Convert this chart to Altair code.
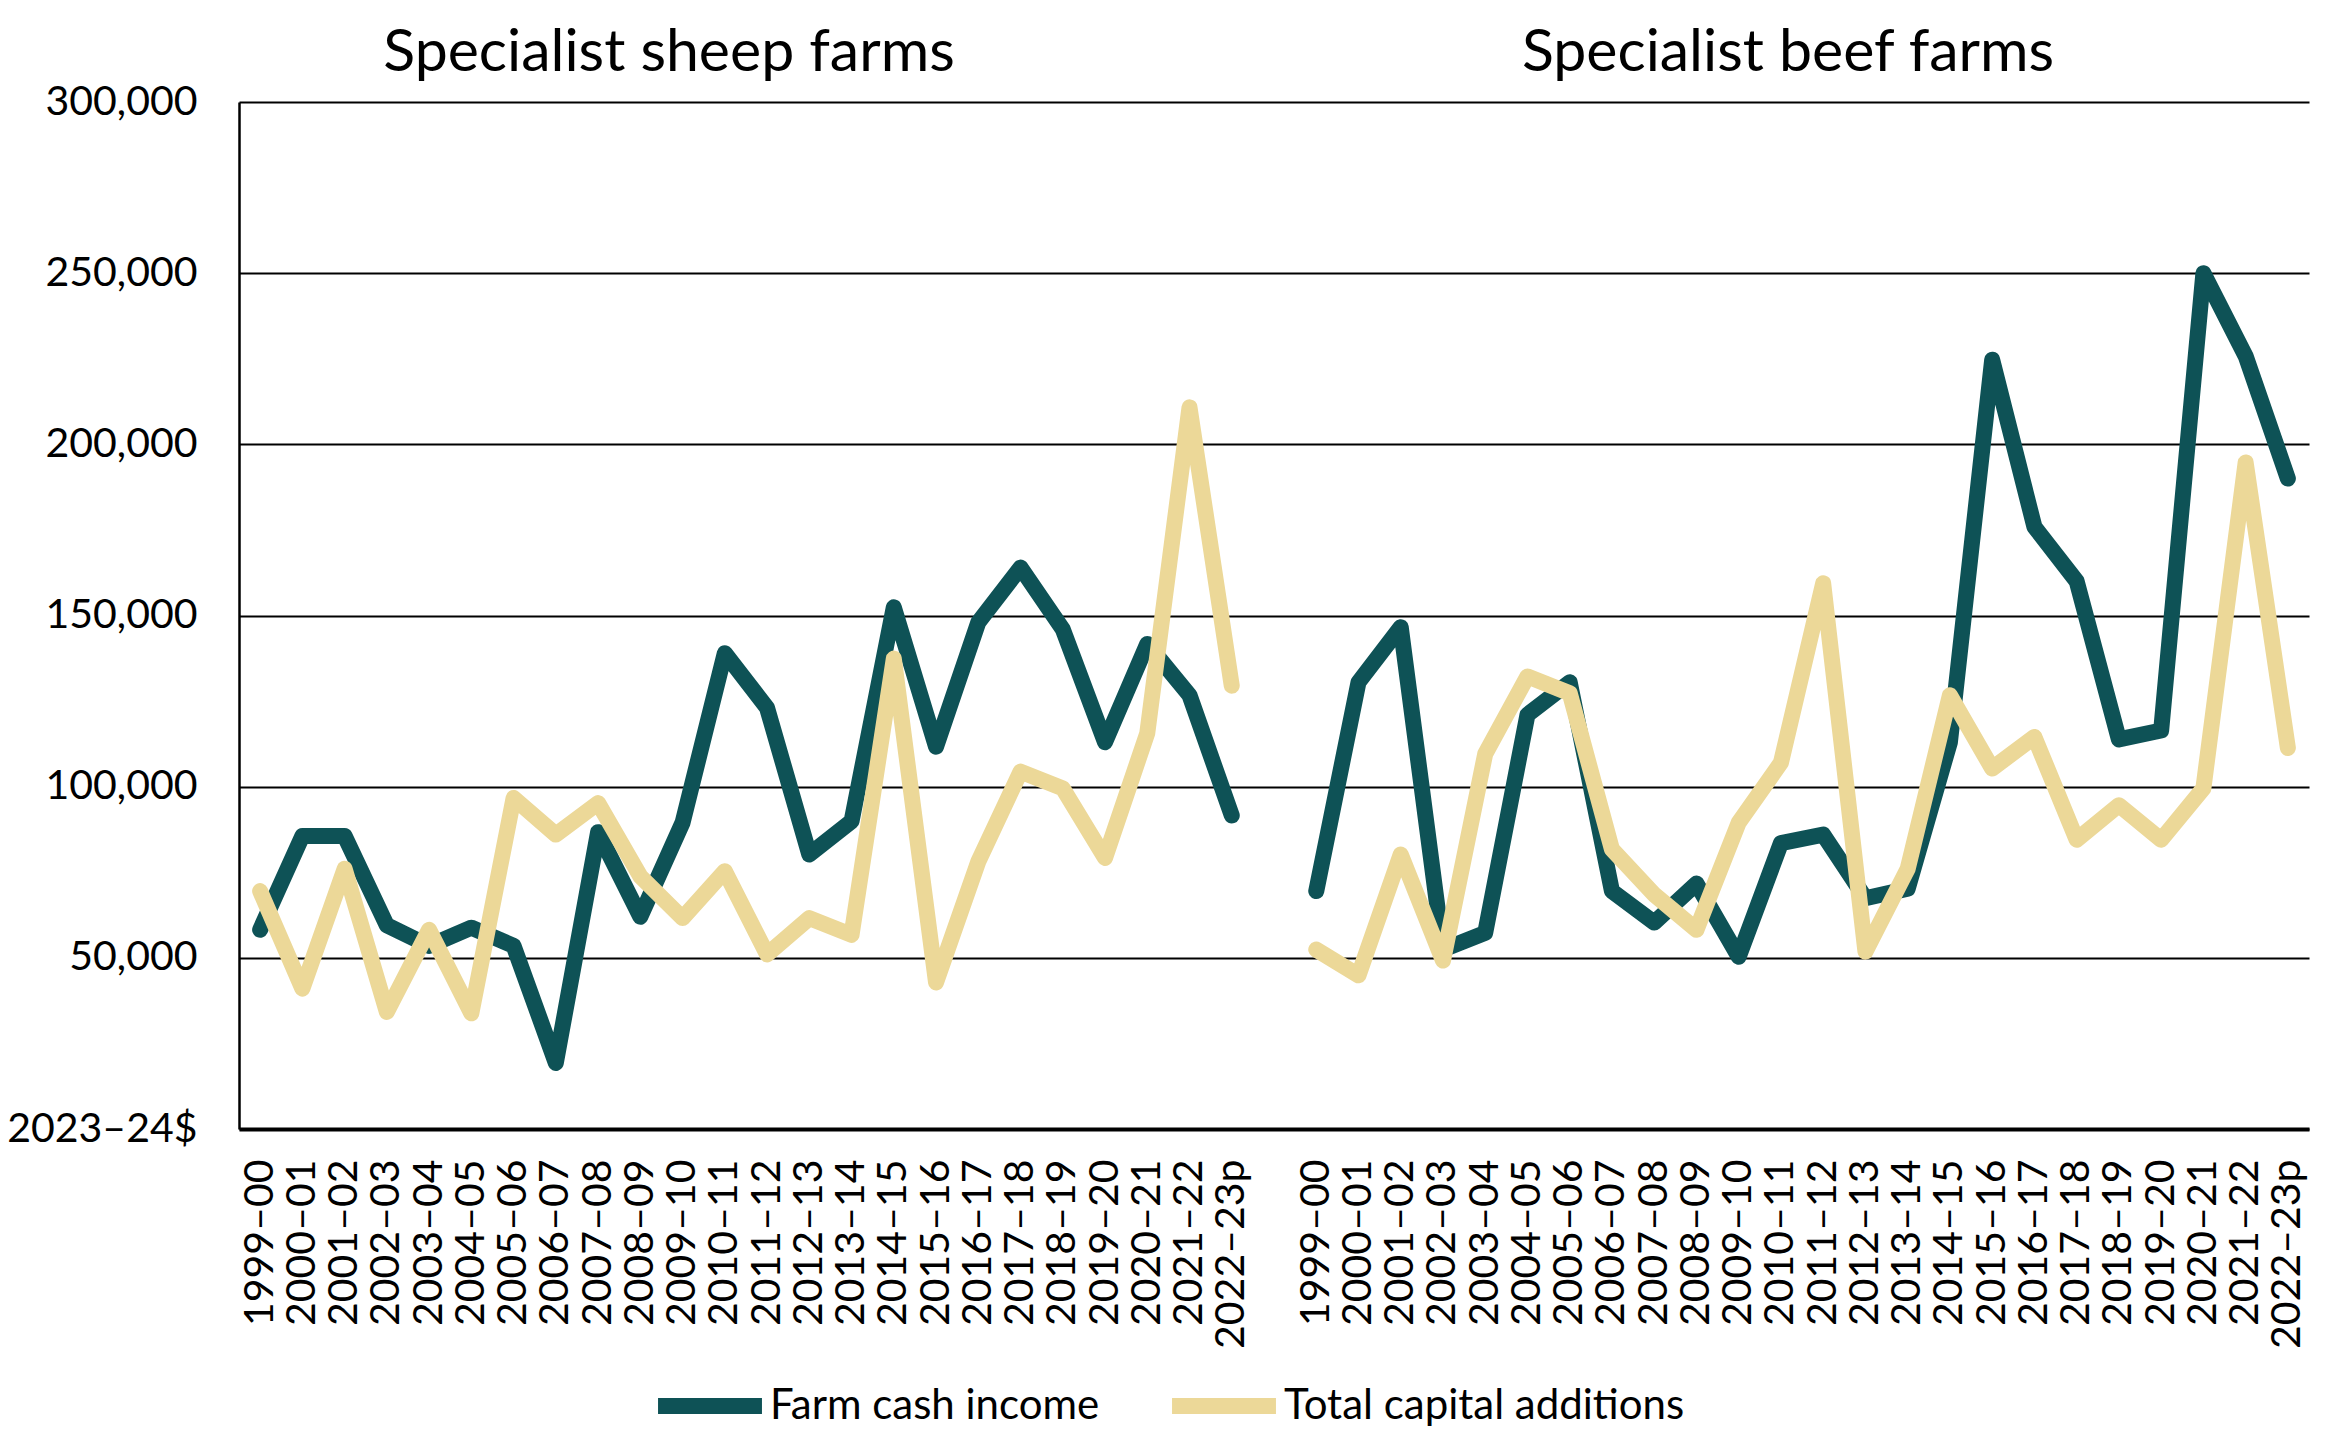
import json
import altair as alt
import pandas as pd

# ---- data ----
years = ["1999–00", "2000–01", "2001–02", "2002–03", "2003–04", "2004–05",
         "2005–06", "2006–07", "2007–08", "2008–09", "2009–10", "2010–11",
         "2011–12", "2012–13", "2013–14", "2014–15", "2015–16", "2016–17",
         "2017–18", "2018–19", "2019–20", "2020–21", "2021–22", "2022–23p"]

sheep_income = [58200, 85600, 85600, 59500, 53500, 58800, 53500, 19300,
                86700, 62000, 89500, 139000, 123000, 80200, 89900, 152400,
                111700, 148000, 164000, 146000, 113000, 141700, 126700, 91600]
sheep_capital = [69500, 41000, 76000, 34200, 58200, 33800, 96700, 86000,
                 95200, 73800, 61600, 75300, 51000, 61600, 56700, 137400,
                 42800, 78100, 104400, 99500, 79200, 115600, 210800, 129500]

beef_income = [69500, 130500, 146600, 52400, 57300, 121000, 130500, 69500,
               60300, 71700, 50300, 83500, 86000, 67400, 70200, 113000,
               224700, 175900, 160000, 113800, 116400, 250000, 225800, 190000]
beef_capital = [52400, 44900, 80200, 49200, 109600, 132200, 127300, 81700,
                68500, 58200, 89500, 107000, 159400, 51800, 76000, 126700,
                105300, 114500, 84500, 94600, 84500, 99500, 194700, 111300]

series_names = ["Farm cash income", "Total capital additions"]
panel_titles = ["Specialist sheep farms", "Specialist beef farms"]
y_ticks = [0, 50000, 100000, 150000, 200000, 250000, 300000]
unit_label = "2023–24$"

colors = ["#0e5256", "#ecd898"]

# ---- build table: sheep at slots 0-23, gap at 24, beef at 25-48 ----
rows = []
n = len(years)
for p, (inc, cap) in enumerate([(sheep_income, sheep_capital), (beef_income, beef_capital)]):
    offset = p * (n + 1)
    for i in range(n):
        rows.append({"idx": offset + i, "panel": panel_titles[p], "series": series_names[0], "value": inc[i]})
        rows.append({"idx": offset + i, "panel": panel_titles[p], "series": series_names[1], "value": cap[i]})
df = pd.DataFrame(rows)

slot_labels = years + [""] + years
tick_idx = [i for i in range(len(slot_labels)) if slot_labels[i] != ""]
label_expr = json.dumps(slot_labels) + "[datum.value]"

FONT = "Lato"

lines = alt.Chart(df).mark_line(
    strokeWidth=16, strokeCap="round", strokeJoin="round"
).encode(
    x=alt.X("idx:Q",
            scale=alt.Scale(domain=[-0.5, len(slot_labels) - 0.5], nice=False, zero=False),
            axis=alt.Axis(values=tick_idx, labelExpr=label_expr, labelAngle=270,
                          title=None, grid=False, ticks=False, labelPadding=30,
                          domainWidth=4, domainColor="black", labelOverlap=False,
                          labelFlush=False, labelBound=False, labelLimit=1000)),
    y=alt.Y("value:Q",
            scale=alt.Scale(domain=[0, 300000], nice=False),
            axis=alt.Axis(values=y_ticks,
                          labelExpr="datum.value == 0 ? '" + unit_label + "' : format(datum.value, ',')",
                          title=None, grid=True, gridColor="black", gridWidth=2,
                          ticks=False, labelPadding=42, domainWidth=2.5,
                          domainColor="black", labelFlush=False, labelOverlap=False,
                          labelLimit=1000)),
    color=alt.Color("series:N",
                    scale=alt.Scale(domain=series_names, range=colors),
                    title=None,
                    legend=alt.Legend(orient="none", legendX=411, legendY=1244,
                                      direction="horizontal", symbolType="stroke",
                                      symbolStrokeWidth=16, symbolSize=10800,
                                      labelFontSize=42, labelFont=FONT,
                                      labelLimit=1000, columnPadding=40,
                                      labelOffset=0, labelColor="black")),
    detail="panel:N",
)

title_left = alt.Chart(pd.DataFrame({"t": [panel_titles[0]]})).mark_text(
    font=FONT, fontSize=59, baseline="alphabetic", align="center", color="black"
).encode(text="t:N", x=alt.value(430), y=alt.value(-31))

title_right = alt.Chart(pd.DataFrame({"t": [panel_titles[1]]})).mark_text(
    font=FONT, fontSize=59, baseline="alphabetic", align="center", color="black"
).encode(text="t:N", x=alt.value(1549), y=alt.value(-31))

chart = alt.layer(lines, title_left, title_right).properties(
    width=2070, height=1027,
    autosize=alt.AutoSizeParams(type="none"),
    padding={"left": 231, "top": 94, "right": 10, "bottom": 305},
).configure(font=FONT).configure_view(strokeWidth=0).configure_axis(
    labelFont=FONT, labelFontSize=41, labelColor="black"
)

chart.save("out.html", embed_options={"renderer": "svg", "actions": False})
